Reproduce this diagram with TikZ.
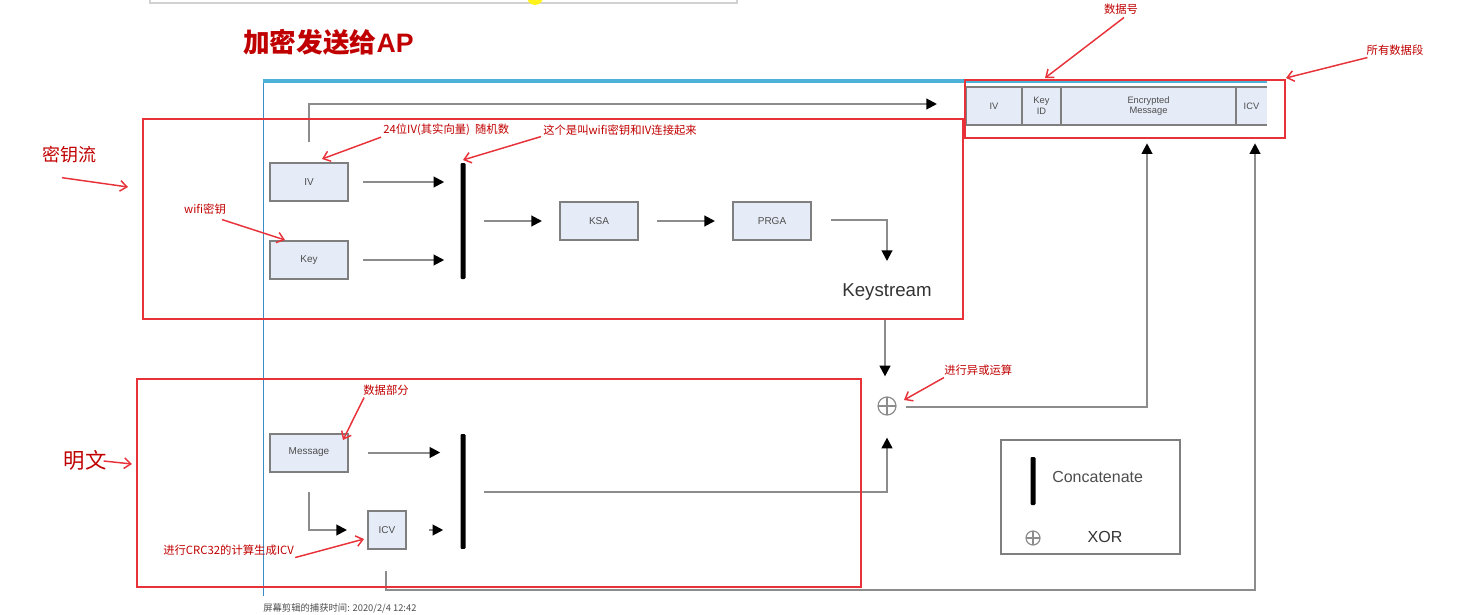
\documentclass[tikz,border=0pt]{standalone}
\usepackage{fontspec}
\setmainfont{Liberation Sans}
\newfontfamily\cjk{Noto Sans CJK SC}
\usetikzlibrary{arrows.meta,calc}
\definecolor{ann}{HTML}{C00000}
\definecolor{redl}{HTML}{E8323A}
\definecolor{boxf}{HTML}{E6ECF7}
\definecolor{boxd}{HTML}{7F7F7F}
\definecolor{lineg}{HTML}{8C8C8C}
\definecolor{txtg}{HTML}{4D4D4D}
\definecolor{txtd}{HTML}{333333}
\definecolor{bluel}{HTML}{4DB1D8}
\definecolor{bluev}{HTML}{3A8CC8}
\begin{document}
\begin{tikzpicture}[x=0.75pt,y=-0.75pt,
  box/.style={draw=boxd, fill=boxf, line width=1.5pt, minimum width=58.5pt, minimum height=28.5pt, inner sep=0pt, font=\fontsize{7.5}{9}\selectfont, text=txtg},
  cell/.style={fill=boxf, minimum height=28.5pt, inner sep=0pt, align=center, font=\fontsize{7}{8}\selectfont, text=txtg},
  barn/.style={fill=black, minimum width=3.75pt, inner sep=0pt, rounded corners=0.8pt},
  arr/.style={draw=lineg, line width=1.5pt, -{Triangle[length=8pt,width=8pt,color=black]}},
  xorn/.style={circle, draw=lineg, line width=0.9pt, inner sep=0pt,
    path picture={\draw[lineg, line width=0.9pt] (path picture bounding box.north) -- (path picture bounding box.south) (path picture bounding box.west) -- (path picture bounding box.east);}},
  note/.style={text=ann, font=\cjk\fontsize{8.5}{10}\selectfont, inner sep=0pt},
  narr/.style={draw=redl, line width=1.1pt, -{Straight Barb[length=5pt,width=8pt]}},
  redframe/.style={draw=redl, line width=1.1pt}
]
\useasboundingbox (0,0) rectangle (1459,614);

% screenshot artifacts
\draw[draw=black!18, line width=0.8pt] (150,-5) -- (150,3) -- (737,3) -- (737,-5);
\fill[yellow!90!white] (535,-3) circle (8);

% title
\node[text=ann, font=\cjk\bfseries\fontsize{20}{24}\selectfont, anchor=west, inner sep=0pt] (title) at (243,42) {加密发送给\textsf{\fontspec{Liberation Sans}\bfseries AP}};

% blue frame lines
\draw[bluel, line width=3pt] (263,81) -- (1267,81);
\draw[bluev, line width=0.7pt] (263,83) -- (263,596);

% boxes
\node[box] (iv) at (309,182) {IV};
\node[box] (key) at (309,260) {Key};
\node[box] (ksa) at (599,221) {KSA};
\node[box] (prga) at (772,221) {PRGA};
\node[box] (msg) at (309,452.5) {Message};
\node[box, minimum width=28.5pt] (icv) at (387,530) {ICV};

\node[barn, minimum height=87pt] (bar1) at (463,221) {};
\node[barn, minimum height=86pt] (bar2) at (463,491.5) {};

\node[font=\fontsize{14}{16}\selectfont, text=txtd, inner sep=0pt] (ks) at (887,292) {Keystream};
\node[xorn, minimum size=13.5pt] (xor) at (887,406) {};

% packet
\node[cell, minimum width=42pt] (pIV) at (994,106) {IV};
\node[cell, minimum width=29.25pt] (pKey) at (1041.5,106) {Key\\ID};
\node[cell, minimum width=131.25pt] (pEnc) at (1148.5,106) {Encrypted\\Message};
\node[cell, minimum width=23.25pt] (pICV) at (1251.5,106) {ICV};
\draw[boxd, line width=1.5pt] (pICV.north east) -- (pIV.north west) -- (pIV.south west) -- (pICV.south east);
\draw[boxd, line width=1.5pt] (pIV.north east) -- (pIV.south east) (pKey.north east) -- (pKey.south east) (pEnc.north east) -- (pEnc.south east);

% connectors
\coordinate (ivtip) at (937,104);
\draw[arr] ($(iv.north)+(0,-20)$) |- (ivtip);
\draw[arr] ($(iv.east)+(14,0)$) -- ($(bar1.west |- iv.east)+(-16,0)$);
\draw[arr] ($(key.east)+(14,0)$) -- ($(bar1.west |- key.east)+(-16,0)$);
\draw[arr] ($(bar1.east)+(18,0)$) -- ($(ksa.west)+(-17,0)$);
\draw[arr] ($(ksa.east)+(18,0)$) -- ($(prga.west)+(-17,0)$);
\coordinate (ksin) at (887,261);
\draw[arr] ($(prga.east)+(19,-1)$) -| (ksin);
\coordinate (ksout) at (885,320);
\draw[arr] (ksout) -- ($(xor.north)+(-2,-20)$);
\draw[arr] ($(xor.east)+(9,1)$) -| ($(pEnc.south)+(-1.5,18)$);
\draw[arr] ($(bar2.east)+(18,0)$) -| ($(xor.south)+(0,22)$);
\draw[arr] ($(msg.east)+(19,0)$) -- ($(bar2.west |- msg.east)+(-20,0)$);
\draw[arr] ($(msg.south)+(0,19)$) |- ($(icv.west)+(-20,0)$);
\draw[arr] ($(icv.east)+(22,0)$) -- ($(bar2.west |- icv.east)+(-17,0)$);
\draw[arr] ($(icv.south)+(-1,21)$) -- ++(0,19) -| ($(pICV.south)+(3.5,18)$);

% legend
\node[draw=boxd, line width=1.5pt, minimum width=134.25pt, minimum height=85.5pt, inner sep=0pt] (leg) at (1090.5,497) {};
\node[barn, minimum height=36pt] (lbar) at (1033,481) {};
\node[font=\fontsize{12}{14}\selectfont, text=txtg, anchor=west, inner sep=0pt] (lcat) at (1052,477) {Concatenate};
\node[xorn, minimum size=10.5pt] (lxor) at (1033,538) {};
\node[font=\fontsize{12}{14}\selectfont, text=txtd, inner sep=0pt] (lxortxt) at (1105,537) {XOR};

% red annotation frames
\draw[redframe] (143,119) rectangle (963,319);
\draw[redframe] (137,379) rectangle (861,587);
\draw[redframe] (965,80) rectangle (1285,138);

% annotations
\node[note] (n1) at (1121,9) {数据号};
\coordinate (t1) at (1045,78);
\draw[narr] ($(n1.south)+(3,3)$) -- (t1);

\node[note] (n2) at (1395,50) {所有数据段};
\coordinate (t2) at (1286,78);
\draw[narr] ($(n2.south west)+(1,2)$) -- (t2);

\node[note, font=\cjk\fontsize{13.5}{16}\selectfont] (n3) at (69,155) {密钥流};
\coordinate (t3) at (128,187);
\draw[narr] ($(n3.south)+(-7,14)$) -- (t3);

\node[note, font=\cjk\fontsize{16}{18}\selectfont] (n4) at (85,460) {明文};
\coordinate (t4) at (132,464);
\draw[narr] ($(n4.east)+(-3,1)$) -- (t4);

\node[note, anchor=west] (n5) at (383,130) {24位IV(其实向量)\ \ 随机数};
\coordinate (t5) at (322,159);
\draw[narr] ($(n5.south west)+(-2,1)$) -- (t5);

\node[note, anchor=west] (n6) at (543,130) {这个是叫wifi密钥和IV连接起来};
\coordinate (t6) at (463,160);
\draw[narr] ($(n6.south west)+(-2,1)$) -- (t6);

\node[note] (n7) at (205,209) {wifi密钥};
\coordinate (t7) at (285,240);
\draw[narr] ($(n7.south)+(17,5)$) -- (t7);

\node[note] (n8) at (386,390) {数据部分};
\coordinate (t8) at (343,440);
\draw[narr] ($(n8.south west)+(1,2)$) -- (t8);

\node[note, anchor=west] (n9) at (163,550) {进行CRC32的计算生成ICV};
\coordinate (t9) at (364,539);
\draw[narr] ($(n9.south east)+(1,2)$) -- (t9);

\node[note, anchor=west] (n10) at (944,370) {进行异或运算};
\coordinate (t10) at (904,400);
\draw[narr] ($(n10.south west)+(0,2)$) -- (t10);

% footer text
\node[anchor=south west, inner sep=0pt, text=txtg, font=\cjk\fontsize{7}{8}\selectfont] (foot) at (263,613) {屏幕剪辑的捕获时间: 2020/2/4 12:42};
\end{tikzpicture}
\end{document}
